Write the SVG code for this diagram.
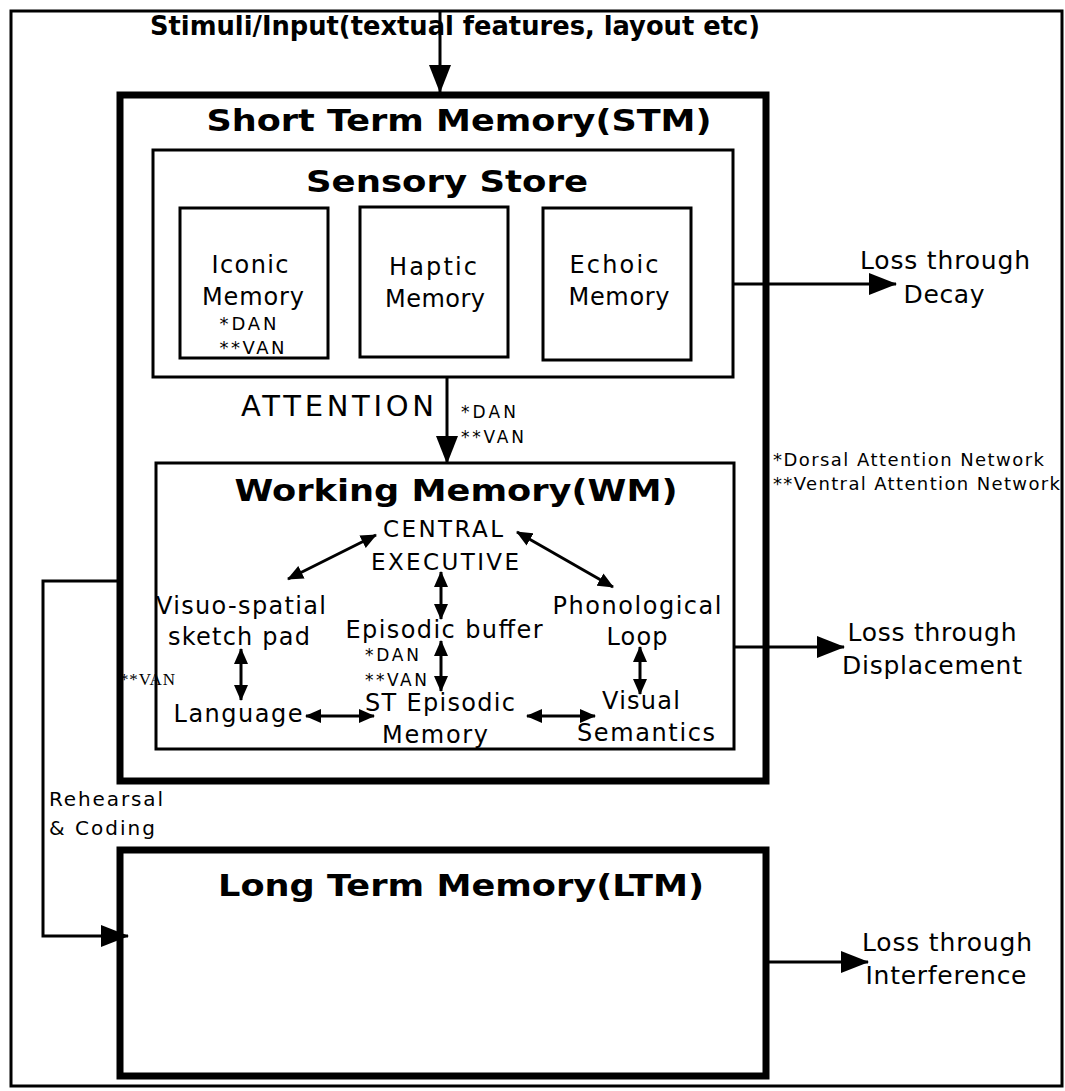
<svg xmlns="http://www.w3.org/2000/svg" width="1065" height="1091" viewBox="0 0 1065 1091">
<style>
.t{font-family:"DejaVu Sans",sans-serif;fill:#000}
.b{font-family:"DejaVu Sans",sans-serif;font-weight:bold;fill:#000}
.box{fill:none;stroke:#000;stroke-width:3}
.thick{fill:none;stroke:#000;stroke-width:7}
.ln{fill:none;stroke:#000;stroke-width:3}
.ln2{fill:none;stroke:#000;stroke-width:3}
</style>
<defs>
<marker id="big" markerUnits="userSpaceOnUse" markerWidth="28" markerHeight="22" refX="27" refY="11" orient="auto"><path d="M0,0 L28,11 L0,22 z" fill="#000"/></marker>
<marker id="sm" markerUnits="userSpaceOnUse" markerWidth="16" markerHeight="14" refX="15" refY="7" orient="auto-start-reverse"><path d="M0,0 L16,7 L0,14 z" fill="#000"/></marker>
</defs>
<rect x="0" y="0" width="1065" height="1091" fill="#fff"/>
<rect x="11" y="11" width="1051" height="1075" fill="none" stroke="#000" stroke-width="3"/>

<g id="stimuli"><text class="b" x="455" y="35" font-size="26" text-anchor="middle" textLength="610" lengthAdjust="spacingAndGlyphs">Stimuli/Input(textual features, layout etc)</text></g>

<g id="stm"><rect class="thick" x="120" y="95" width="646" height="686"/>
<text class="b" x="459" y="131" font-size="31" text-anchor="middle" textLength="505" lengthAdjust="spacingAndGlyphs">Short Term Memory(STM)</text></g>

<g id="sensory"><rect class="box" x="153" y="150" width="580" height="227"/>
<text class="b" x="447" y="192" font-size="31" text-anchor="middle" textLength="282" lengthAdjust="spacingAndGlyphs">Sensory Store</text></g>

<g id="iconic"><rect class="box" x="180" y="208" width="148" height="150"/>
<text class="t" x="250" y="273" font-size="24" text-anchor="middle" textLength="77">Iconic</text>
<text class="t" x="253" y="305" font-size="24" text-anchor="middle" textLength="102">Memory</text>
<text class="t" x="248" y="330" font-size="18" text-anchor="middle" textLength="57">*DAN</text>
<text class="t" x="252" y="354" font-size="18" text-anchor="middle" textLength="65">**VAN</text></g>

<g id="haptic"><rect class="box" x="360" y="207" width="148" height="150"/>
<text class="t" x="433" y="275" font-size="24" text-anchor="middle" textLength="88">Haptic</text>
<text class="t" x="435" y="307" font-size="24" text-anchor="middle" textLength="100">Memory</text></g>

<g id="echoic"><rect class="box" x="543" y="208" width="148" height="152"/>
<text class="t" x="614" y="273" font-size="24" text-anchor="middle" textLength="89">Echoic</text>
<text class="t" x="619" y="305" font-size="24" text-anchor="middle" textLength="101">Memory</text></g>

<g id="decay"><text class="t" x="945" y="269" font-size="25" text-anchor="middle" textLength="170">Loss through</text>
<text class="t" x="944" y="303" font-size="25" text-anchor="middle" textLength="81">Decay</text></g>

<g id="attention-label"><text class="t" x="434" y="416" font-size="29" text-anchor="end" textLength="193">ATTENTION</text>
<text class="t" x="461" y="418" font-size="17" textLength="55">*DAN</text>
<text class="t" x="461" y="443" font-size="17" textLength="63">**VAN</text></g>

<g id="legend"><text class="t" x="773" y="466" font-size="18" textLength="271">*Dorsal Attention Network</text>
<text class="t" x="773" y="490" font-size="18" textLength="287">**Ventral Attention Network</text></g>

<g id="wm"><rect class="box" x="156" y="463" width="578" height="286"/>
<text class="b" x="456" y="501" font-size="31" text-anchor="middle" textLength="443" lengthAdjust="spacingAndGlyphs">Working Memory(WM)</text></g>

<g id="central"><text class="t" x="443" y="537" font-size="23" text-anchor="middle" textLength="120">CENTRAL</text>
<text class="t" x="445" y="570" font-size="23" text-anchor="middle" textLength="148">EXECUTIVE</text></g>

<g id="visuo"><text class="t" x="241" y="614" font-size="24" text-anchor="middle" textLength="170">Visuo-spatial</text>
<text class="t" x="239" y="645" font-size="24" text-anchor="middle" textLength="142">sketch pad</text></g>

<g id="episodic"><text class="t" x="444" y="638" font-size="24" text-anchor="middle" textLength="197">Episodic buffer</text>
<text class="t" x="365" y="661" font-size="17" textLength="54">*DAN</text>
<text class="t" x="365" y="686" font-size="17" textLength="62">**VAN</text></g>

<g id="phono"><text class="t" x="637" y="614" font-size="24" text-anchor="middle" textLength="169">Phonological</text>
<text class="t" x="637" y="645" font-size="24" text-anchor="middle" textLength="61">Loop</text></g>

<g id="language"><text class="t" x="238" y="722" font-size="24" text-anchor="middle" textLength="129">Language</text></g>

<g id="stepisodic"><text class="t" x="440" y="711" font-size="24" text-anchor="middle" textLength="150">ST Episodic</text>
<text class="t" x="435" y="743" font-size="24" text-anchor="middle" textLength="106">Memory</text></g>

<g id="visual"><text class="t" x="641" y="709" font-size="24" text-anchor="middle" textLength="78">Visual</text>
<text class="t" x="646" y="741" font-size="24" text-anchor="middle" textLength="138">Semantics</text></g>

<g id="van-note"><text x="120" y="685" font-family="Liberation Serif,serif" font-size="17" textLength="55">**VAN</text></g>

<g id="displacement"><text class="t" x="932" y="641" font-size="25" text-anchor="middle" textLength="169">Loss through</text>
<text class="t" x="932" y="674" font-size="25" text-anchor="middle" textLength="180">Displacement</text></g>

<g id="rehearsal"><text class="t" x="49" y="806" font-size="20" textLength="114">Rehearsal</text>
<text class="t" x="49" y="835" font-size="20" textLength="106">&amp; Coding</text></g>

<g id="ltm"><rect class="thick" x="120" y="850" width="646" height="226"/>
<text class="b" x="461" y="896" font-size="31" text-anchor="middle" textLength="486" lengthAdjust="spacingAndGlyphs">Long Term Memory(LTM)</text></g>

<g id="interference"><text class="t" x="947" y="951" font-size="25" text-anchor="middle" textLength="170">Loss through</text>
<text class="t" x="946" y="984" font-size="25" text-anchor="middle" textLength="161">Interference</text></g>

<g id="connectors">
<line class="ln" x1="440" y1="12" x2="440" y2="92" marker-end="url(#big)"/>
<line class="ln" x1="734" y1="284" x2="896" y2="284" marker-end="url(#big)"/>
<line class="ln" x1="447" y1="378" x2="447" y2="463" marker-end="url(#big)"/>
<line class="ln" x1="734" y1="647" x2="844" y2="647" marker-end="url(#big)"/>
<line class="ln" x1="768" y1="962" x2="868" y2="962" marker-end="url(#big)"/>
<polyline class="ln" points="117,581 43,581 43,936 128,936" marker-end="url(#big)"/>
<line class="ln2" x1="376" y1="535" x2="288" y2="579" marker-start="url(#sm)" marker-end="url(#sm)"/>
<line class="ln2" x1="517" y1="532" x2="613" y2="587" marker-start="url(#sm)" marker-end="url(#sm)"/>
<line class="ln2" x1="441" y1="572" x2="441" y2="619" marker-start="url(#sm)" marker-end="url(#sm)"/>
<line class="ln2" x1="441" y1="641" x2="441" y2="691" marker-start="url(#sm)" marker-end="url(#sm)"/>
<line class="ln2" x1="241" y1="649" x2="241" y2="700" marker-start="url(#sm)" marker-end="url(#sm)"/>
<line class="ln2" x1="640" y1="647" x2="640" y2="694" marker-start="url(#sm)" marker-end="url(#sm)"/>
<line class="ln2" x1="306" y1="716" x2="374" y2="716" marker-start="url(#sm)" marker-end="url(#sm)"/>
<line class="ln2" x1="527" y1="716" x2="595" y2="716" marker-start="url(#sm)" marker-end="url(#sm)"/>
</g>
</svg>
